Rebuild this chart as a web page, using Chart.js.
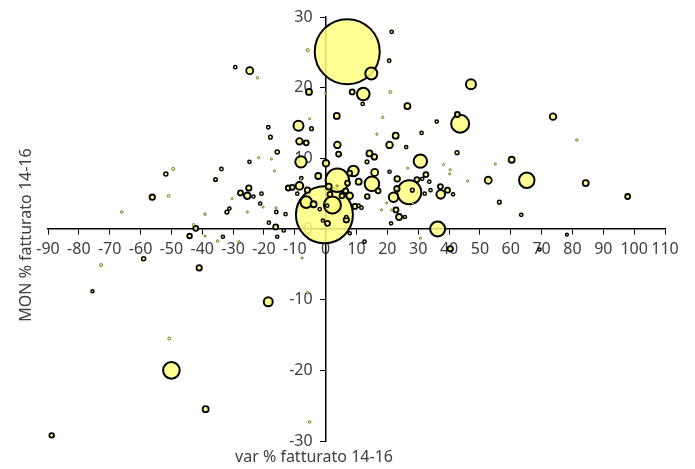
<!DOCTYPE html>
<html><head><meta charset="utf-8">
<script src="https://cdn.jsdelivr.net/npm/chart.js@4/dist/chart.umd.min.js"></script>
<style>html,body{margin:0;padding:0;background:#fff}canvas{display:block}</style>
</head><body><canvas id="c" width="695" height="469"></canvas>
<script>
const xTitle = 'var % fatturato 14-16';
const yTitle = 'MON % fatturato 14-16';
const xRange = [-90, 110];
const yRange = [-30, 30];
const tickStep = 10;

// [x, y, bubble radius]
const bigBubbles = [
  [7.0,25.1,32.5],[-0.4,2.0,28.5],[27.1,5.2,12],[3.8,6.9,11.7],[43.6,14.9,9],[2.2,3.4,8.5],
  [-50.0,-20.0,8.3],[65.2,6.9,7.7],[36.3,0.0,7.5],[15.0,6.4,7.3],[30.7,9.6,6.7],[12.2,19.1,6.3],
  [14.8,22.0,6],[-6.3,3.8,5.8],[-8.0,9.5,5.7],[9.0,8.2,5.3],[-8.8,14.6,5],[47.1,20.5,5],
  [22.0,4.5,4.7],[-18.6,-10.3,4.5],[37.3,4.9,4.3],[-8.5,6.1,3.8],[-25.4,4.7,3.3]
];
const ringBubbles = [
  [-24.6,22.4,3.5],[-5.4,19.4,3],[8.6,19.4,2.5],[26.5,17.4,3],[3.6,16.0,3],[-8.5,12.4,3.3],
  [-6.3,12.2,2.5],[3.8,11.9,3.3],[4.2,10.6,2.5],[0.1,9.3,3.3],[-2.4,7.5,3],[-12.1,5.8,2.5],
  [-10.8,5.9,2.5],[-5.9,5.5,2.7],[1.0,6.0,3],[1.4,4.9,2.5],[-3.9,3.5,3],[0.6,0.8,2.5],
  [6.7,1.3,2.7],[5.3,4.7,2.5],[6.5,5.4,2.5],[7.8,4.7,3.3],[7.1,6.5,2.5],[7.8,7.9,2.5],
  [9.5,3.2,2.5],[10.7,6.7,3],[17.0,5.4,2.5],[13.5,4.6,2.3],[23.2,7.1,2.8],[23.1,5.7,2.7],
  [22.8,2.7,2.5],[23.8,1.7,3],[29.6,7.0,2.5],[32.5,7.7,2.5],[37.2,6.0,2.5],[39.5,5.5,2.5],
  [40.4,-2.8,2.7],[42.7,16.2,2.5],[73.7,15.9,3.3],[22.7,13.2,3],[20.7,11.9,3.3],[60.3,9.8,3],
  [14.2,10.7,3],[15.8,10.2,2.7],[15.9,8.0,3.5],[52.7,6.9,3.5],[84.3,6.5,3],[97.9,4.6,2.5],
  [-56.2,4.5,2.7],[-27.6,5.1,2.5],[-24.9,5.8,2.7],[-16.2,0.3,2.5],[-42.1,0.1,2.5],[-41.0,-5.5,2.7],
  [-38.9,-25.5,3],[-88.8,-29.2,2.3],[-44.1,-1.0,2.3]
];
const darkDots = [
  [21.4,27.9,1.7],[20.6,23.8,1.7],[12.0,17.7,1.6],[-29.3,22.9,1.6],[-4.6,14.2,1.8],[-18.6,14.4,1.7],
  [-17.9,13.0,1.8],[-15.7,10.9,2],[-24.7,9.5,1.6],[31.1,13.6,1.6],[36.0,15.2,1.6],[26.1,11.6,1.6],
  [42.6,10.8,1.9],[13.4,9.5,1.8],[20.7,8.1,1.6],[31.3,7.1,1.6],[33.6,6.7,1.6],[41.3,4.9,1.6],
  [32.1,5.0,1.6],[34.0,5.5,1.6],[28.1,5.5,1.8],[11.6,3.0,1.7],[25.7,1.7,1.6],[21.2,0.8,1.6],
  [7.8,-0.6,1.6],[12.6,-1.8,1.6],[56.3,3.8,1.8],[63.4,2.0,1.7],[69.3,-2.9,1.6],[78.2,-0.8,1.4],
  [-7.9,7.2,1.7],[-9.2,5.0,1.6],[-23.4,4.6,1.6],[-20.8,5.0,1.7],[-21.2,3.6,1.6],[-16.0,2.4,1.7],
  [-13.0,2.1,1.6],[-18.4,0.9,1.6],[-13.6,-0.2,1.6],[-15.7,-1.1,1.6],[-1.9,2.8,1.6],[-0.9,1.2,1.6],
  [0.5,3.3,1.6],[10.7,3.3,1.6],[-33.8,8.5,1.7],[-35.7,7.0,1.8],[-31.2,2.9,1.6],[-32.0,2.4,1.9],
  [-51.8,7.8,2],[-33.3,-1.1,1.6],[-59.0,-4.2,2],[-75.6,-8.8,1.5],[6.7,1.7,1.6]
];
const specks = [
  [0.0,19.2,1.1],[18.5,15.8,1.2],[16.6,13.4,1.1],[-5.2,15.6,1.1],[-21.7,10.1,1.1],[-17.6,9.9,1.1],
  [-16.6,8.2,1.1],[-8.0,7.1,1.1],[26.6,8.6,1.1],[38.2,9.1,1.1],[40.4,8.4,1.1],[40.2,7.8,1.1],
  [55.0,9.2,1.1],[46.0,6.8,1.1],[81.4,12.6,1.2],[30.7,-1.3,1.2],[19.8,3.7,1.1],[21.4,2.7,1.1],
  [18.1,2.7,1.1],[28.3,3.6,1.1],[3.7,6.1,1.1],[-20.3,3.1,1.1],[-25.4,2.4,1.1],[-16.1,3.0,1.1],
  [-30.3,4.3,1.1],[-50.9,4.7,1.4],[-66.1,2.4,1.3],[-42.8,0.6,1.3],[-39.1,2.1,1.3],[-39.1,-1.0,1.1],
  [-35.0,-1.7,1.3],[-28.1,-1.8,1.2],[-7.6,-4.1,1.1],[-5.9,-9.0,1.3],[-5.2,-27.3,1.3],[-22.1,21.4,1.2],
  [-72.8,-5.1,1.5],[-50.7,-15.5,1.5],[-49.4,8.5,1.6],[21.0,19.4,1.5],[-5.8,25.3,1.6]
];

const FONT = '"Noto Sans", "Open Sans", sans-serif';
const TXT = '#404040';
const FILL = 'rgba(255,255,128,0.85)';
const pts = arr => arr.map(([x, y, r]) => ({x, y, r}));

// y tick labels drawn left of the centred y axis (beneath the bubbles)
const yLabelPlugin = {
  id: 'yLabels',
  beforeDatasetsDraw(chart) {
    const {ctx, scales: {x, y}} = chart;
    const x0 = x.getPixelForValue(0);
    ctx.save();
    ctx.fillStyle = TXT;
    ctx.font = '16px ' + FONT;
    ctx.textAlign = 'right';
    ctx.textBaseline = 'middle';
    y.ticks.forEach(t => ctx.fillText(String(t.value), x0 - 13, y.getPixelForValue(t.value)));
    ctx.restore();
  }
};

const titlePlugin = {
  id: 'axisTitles',
  afterDraw(chart) {
    const {ctx, scales: {x, y}} = chart;
    ctx.save();
    ctx.fillStyle = TXT;
    ctx.font = '16px ' + FONT;
    ctx.textAlign = 'center';
    ctx.textBaseline = 'middle';
    ctx.fillText(xTitle, x.left + 266, y.bottom + 16);
    ctx.translate(x.left - 22, y.top + 218);
    ctx.rotate(-Math.PI / 2);
    ctx.fillText(yTitle, 0, 0);
    ctx.restore();
  }
};

const zeroFit = s => {
  if (s.isHorizontal()) s.height = 0; else s.width = 0;
  s.paddingLeft = s.paddingRight = s.paddingTop = s.paddingBottom = 0;
};

const axisCommon = {
  type: 'linear',
  ticks: {stepSize: tickStep, color: TXT, font: {family: FONT, size: 16}, autoSkip: false, maxRotation: 0},
  grid: {display: true, drawOnChartArea: false, drawTicks: true, tickLength: 5, color: '#000', lineWidth: 1},
  border: {display: true, color: '#000', width: 1.5},
  afterFit: zeroFit
};

new Chart(document.getElementById('c'), {
  type: 'bubble',
  data: {
    datasets: [
      {data: pts(specks), backgroundColor: 'rgba(255,255,128,0.9)', borderColor: 'rgba(70,70,0,0.85)', borderWidth: 0.8, order: 1},
      {data: pts(darkDots), backgroundColor: FILL, borderColor: '#000', borderWidth: 1.5, order: 2},
      {data: pts(ringBubbles), backgroundColor: FILL, borderColor: '#000', borderWidth: 1.8, order: 3},
      {data: pts(bigBubbles), backgroundColor: FILL, borderColor: '#000', borderWidth: 2, order: 4}
    ]
  },
  options: {
    responsive: false,
    devicePixelRatio: 1,
    animation: false,
    events: [],
    layout: {autoPadding: false, padding: {left: 48, right: 30, top: 17, bottom: 28}},
    plugins: {legend: {display: false}, tooltip: {enabled: false}},
    scales: {
      x: {...axisCommon, min: xRange[0], max: xRange[1], position: {y: 0},
          ticks: {...axisCommon.ticks, padding: 6}},
      y: {...axisCommon, min: yRange[0], max: yRange[1], position: {x: 0},
          ticks: {...axisCommon.ticks, display: false}}
    }
  },
  plugins: [yLabelPlugin, titlePlugin]
});
</script></body></html>
